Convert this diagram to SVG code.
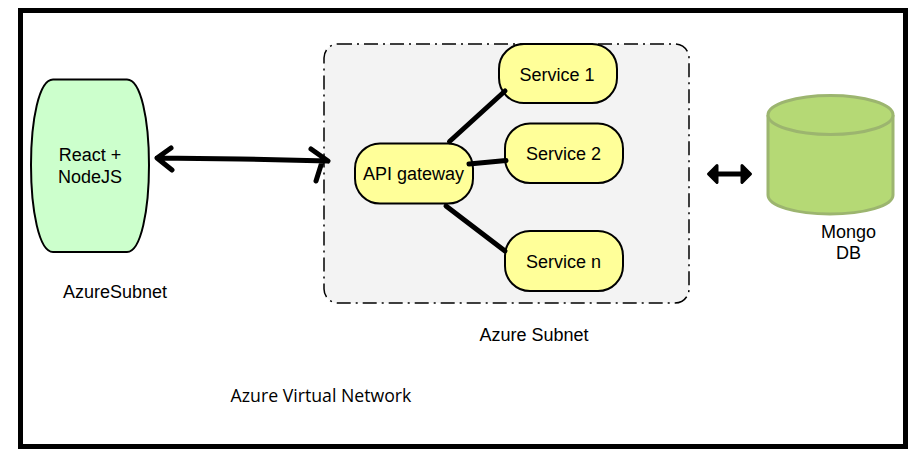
<svg xmlns="http://www.w3.org/2000/svg" width="919" height="457" viewBox="0 0 919 457">
<style>
text{font-family:"Liberation Sans",Arial,sans-serif;font-size:18px;fill:#000;text-anchor:middle}
.svc{fill:#ffff99;stroke:#000;stroke-width:2}
.con{fill:none;stroke:#000;stroke-linecap:round;stroke-linejoin:round}
</style>
<rect width="919" height="457" fill="#fff"/>
<g id="vnet"><rect x="20.500" y="10.500" width="885" height="436" fill="none" stroke="#000" stroke-width="5"/>
<text x="321" y="402" style="font-family:'Open Sans','Liberation Sans',sans-serif;font-size:17.700px">Azure Virtual Network</text></g>
<g id="subnet"><rect x="324" y="44" width="365" height="259" rx="14" fill="#f3f3f3" stroke="#000" stroke-width="1.500" stroke-dasharray="14 5 2 5"/>
<text x="534" y="341">Azure Subnet</text></g>
<g id="react"><path d="M53 79.500H127C141 79.500 149 120 149 165S141 252 127 252H53C39 252 31 210 31 165S39 79.500 53 79.500Z" fill="#ccffcc" stroke="#000" stroke-width="2"/>
<text x="90" y="161">React +</text><text x="90" y="183">NodeJS</text></g>
<text id="subnet-label" x="115" y="298">AzureSubnet</text>
<g id="service1"><rect class="svc" x="499" y="44" width="118" height="59" rx="25"/><text x="557" y="81">Service 1</text></g>
<g id="service2"><rect class="svc" x="505" y="123.500" width="118" height="59.500" rx="25"/><text x="563.500" y="160">Service 2</text></g>
<g id="servicen"><rect class="svc" x="505" y="231" width="118" height="60" rx="25"/><text x="563.500" y="268">Service n</text></g>
<g id="gateway"><rect class="svc" x="355" y="143.500" width="118" height="60" rx="25"/><text x="413.500" y="180">API gateway</text></g>
<g id="mongo"><path d="M768 115V195C768 206 796 214 830 214S893 206 893 195V115" fill="#b5d975" stroke="#9cb56f" stroke-width="3"/>
<ellipse cx="830.500" cy="115" rx="62.500" ry="19.500" fill="#b5d975" stroke="#9cb56f" stroke-width="3"/>
<text x="848.500" y="238">Mongo</text><text x="848.500" y="259">DB</text></g>
<g id="connectors">
<path class="con" stroke-width="5" d="M157 158L240 159L328 161M171 148L157 158L172 170M311 149L328 161M322 162L316 181"/>
<path class="con" stroke-width="5" d="M449.500 141.500L505 91"/>
<path class="con" stroke-width="5" d="M469 164L506 160.500"/>
<path class="con" stroke-width="5" d="M446 206L505 251"/>
<path class="con" stroke-width="5" d="M712 174H748"/>
<path d="M717 165.500L708.500 174L717 182.500ZM742 165.500L750.500 174L742 182.500Z" fill="#000" stroke="#000" stroke-width="3" stroke-linejoin="round"/>
</g>
</svg>
